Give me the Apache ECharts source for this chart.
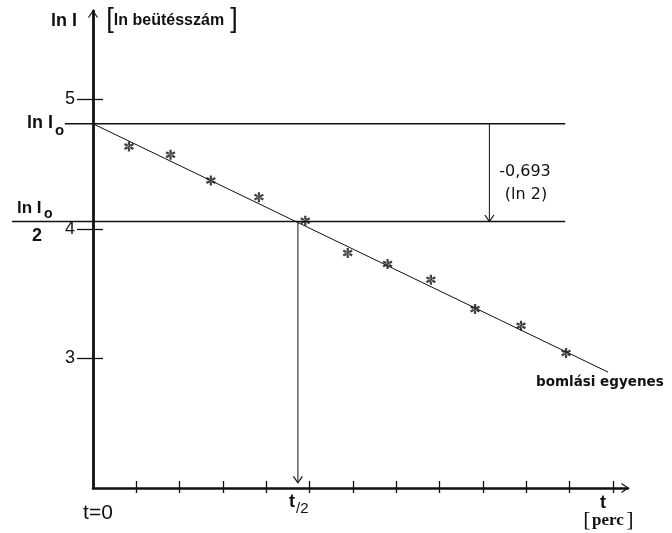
<!DOCTYPE html>
<html><head><meta charset="utf-8">
<script src="https://cdn.jsdelivr.net/npm/echarts@6/dist/echarts.min.js"></script>
<style>html,body{margin:0;padding:0;background:#fff}#c{width:672px;height:533px}</style>
</head><body><div id="c"></div>
<script>
// ---- data ----
const xTickValues = [1,2,3,4,5,6,7,8,9,10,11,12];
const yTickValues = [3,4,5];
const measT   = [0.83,1.79,2.72,3.83,4.90,5.88,6.80,7.80,8.82,9.88,10.92];
const measLnI = [4.635,4.571,4.372,4.244,4.062,3.813,3.728,3.607,3.381,3.252,3.042];
const lnI0 = 4.81;
const lnI0half = 4.056;
const tHalf = 4.73;
const fitT = [0, 11.89];
const fitLnI = [4.81, 2.894];
const xMin = 0, xMax = 12.35, yMin = 2, yMax = 5.68;
const lnI0LineStart = -0.65;
const halfLineStart = -1.87;
const refLineEnd = 10.9;
const ln2ArrowT = 9.15;

// segments: [x1,y1,x2,y2,kind,width]  kind 0=line, 1=line+arrowhead, 2=arrowhead only
const segments = [
  [lnI0LineStart, lnI0, refLineEnd, lnI0, 0, 1.3],
  [halfLineStart, lnI0half, refLineEnd, lnI0half, 0, 1.3],
  [fitT[0], fitLnI[0], fitT[1], fitLnI[1], 0, 1],
  [tHalf, lnI0half, tHalf, yMin + 0.04, 1, 1],
  [ln2ArrowT, lnI0, ln2ArrowT, lnI0half, 1, 1],
  [xMax - 1, yMin, xMax, yMin, 2, 1.3],
  [xMin, yMax - 1, xMin, yMax, 2, 1.3]
];

const chart = echarts.init(document.getElementById('c'));
const starPath = 'path://M-1.1,-5L1.1,-5L1.1,5L-1.1,5Z M3.78,3.45L4.88,1.55L-3.78,-3.45L-4.88,-1.55Z M-3.78,3.45L-4.88,1.55L3.78,-3.45L4.88,-1.55Z';
const ink = '#111';
const T = (text, x, y, font, align, extra) => Object.assign({
  type: 'text', silent: true,
  style: Object.assign({ text, x, y, font, fill: ink, textAlign: align || 'center', textVerticalAlign: 'middle' }, extra || {})
});

chart.setOption({
  animation: false,
  backgroundColor: '#fff',
  grid: { left: 93, right: 44, top: 11, bottom: 45, containLabel: false },
  xAxis: [
    { type: 'value', min: xMin, max: xMax, interval: 1,
      axisLine: { show: true, lineStyle: { color: ink, width: 2.6 } },
      axisTick: { show: true, inside: true, length: 7, customValues: xTickValues, lineStyle: { color: ink, width: 1.3 } },
      axisLabel: { show: false }, splitLine: { show: false } },
    { type: 'value', min: xMin, max: xMax, interval: 1, position: 'bottom',
      axisLine: { show: false },
      axisTick: { show: true, inside: false, length: 5, customValues: xTickValues, lineStyle: { color: ink, width: 1.3 } },
      axisLabel: { show: false }, splitLine: { show: false } }
  ],
  yAxis: [
    { type: 'value', min: yMin, max: yMax, interval: 1,
      axisLine: { show: true, lineStyle: { color: ink, width: 2.8 } },
      axisTick: { show: true, inside: false, length: 16, customValues: yTickValues, lineStyle: { color: ink, width: 1.3 } },
      axisLabel: { show: true, customValues: yTickValues, margin: 18, color: ink,
        fontFamily: 'Liberation Sans', fontSize: 18 },
      splitLine: { show: false } },
    { type: 'value', min: yMin, max: yMax, interval: 1, position: 'left',
      axisLine: { show: false },
      axisTick: { show: true, inside: true, length: 10, customValues: yTickValues, lineStyle: { color: ink, width: 1.3 } },
      axisLabel: { show: false }, splitLine: { show: false } }
  ],
  series: [
    { type: 'custom', xAxisIndex: 0, yAxisIndex: 0, clip: false, silent: true,
      data: segments,
      renderItem: function (params, api) {
        const p1 = api.coord([api.value(0), api.value(1)]);
        const p2 = api.coord([api.value(2), api.value(3)]);
        const kind = api.value(4), w = api.value(5);
        const children = [];
        if (kind !== 2) children.push({ type: 'line', shape: { x1: p1[0], y1: p1[1], x2: p2[0], y2: p2[1] },
          style: { stroke: ink, lineWidth: w } });
        if (kind !== 0) {
          const dx = p2[0] - p1[0], dy = p2[1] - p1[1], L = Math.hypot(dx, dy) || 1;
          const ux = dx / L, uy = dy / L, nx = -uy, ny = ux, len = 6.5, wd = 4.5;
          children.push({ type: 'polyline', shape: { points: [
            [p2[0] - ux * len + nx * wd, p2[1] - uy * len + ny * wd], [p2[0], p2[1]],
            [p2[0] - ux * len - nx * wd, p2[1] - uy * len - ny * wd]] },
            style: { stroke: ink, lineWidth: 1.2, fill: null } });
        }
        return { type: 'group', children };
      } },
    { type: 'scatter', xAxisIndex: 0, yAxisIndex: 0, silent: true,
      symbol: starPath, symbolSize: [10, 10],
      itemStyle: { color: '#111' },
      data: measT.map((t, i) => [t, measLnI[i]]) }
  ],
  graphic: [
    T('ln I', 64, 21, 'bold 18px "Liberation Sans"'),
    T('[', 110, 20, '300 27px "Liberation Sans"'),
    T('ln beütésszám', 169, 21, 'bold 16px "Liberation Sans"'),
    T(']', 234, 20, '300 27px "Liberation Sans"'),
    T('ln I', 27, 123, 'bold 18px "Liberation Sans"', 'left'),
    T('o', 55, 131, 'bold 15px "Liberation Sans"', 'left'),
    T('ln I', 17, 208, 'bold 17px "Liberation Sans"', 'left'),
    T('o', 44, 214, 'bold 14px "Liberation Sans"', 'left'),
    T('2', 37, 236, 'bold 18px "Liberation Sans"'),
    T('t=0', 98, 513, '21px "Liberation Sans"'),
    T('t', 292, 502, 'bold 18px "Liberation Sans"'),
    T('/2', 296, 509, '15px "Liberation Sans"', 'left'),
    T('t', 603, 503, 'bold 18px "Liberation Sans"'),
    T('[', 587, 520, '300 22px "Liberation Serif"'),
    T('perc', 608, 521, 'bold 17px "Liberation Serif"'),
    T(']', 630, 520, '300 22px "Liberation Serif"'),
    T('-0,693', 525, 172, '16px "DejaVu Sans"'),
    T('(ln 2)', 526, 195, '16px "DejaVu Sans"'),
    T('bomlási egyenes', 536, 382, 'bold 13.5px "DejaVu Sans"', 'left')
  ]
});
</script></body></html>
